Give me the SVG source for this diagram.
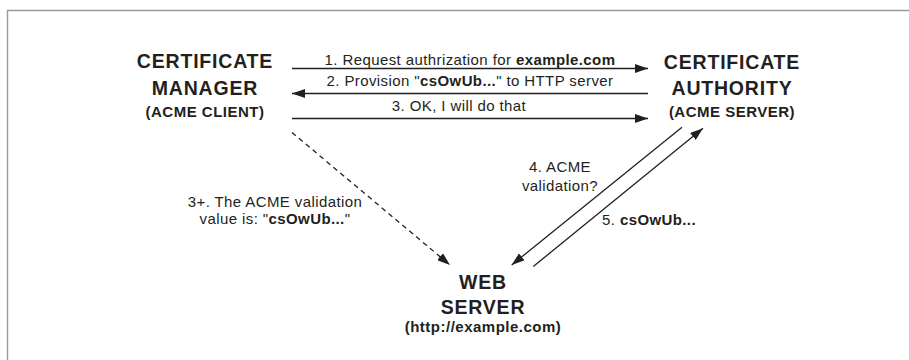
<svg xmlns="http://www.w3.org/2000/svg" width="909" height="360" viewBox="0 0 909 360">
<style>
.title{font-family:"Liberation Sans",Arial,sans-serif;font-weight:bold;font-size:19.5px;letter-spacing:0.8px;fill:#231f20;text-anchor:middle}
.sub{font-family:"Liberation Sans",Arial,sans-serif;font-weight:bold;font-size:15px;letter-spacing:0.5px;fill:#231f20;text-anchor:middle}
.lbl{font-family:"Liberation Sans",Arial,sans-serif;font-size:15px;letter-spacing:0.4px;fill:#231f20}
.b{font-weight:bold}
.ln{stroke:#231f20;stroke-width:1.3;fill:none}
</style>
<defs>
<marker id="ah" markerUnits="userSpaceOnUse" markerWidth="13" markerHeight="9" refX="13" refY="4.5" orient="auto">
<path d="M0,0 L13,4.5 L0,9 z" fill="#231f20"/>
</marker>
</defs>
<rect width="909" height="360" fill="#fff"/>
<path d="M7.5,360 V10.5 H909" stroke="#999" stroke-width="1.4" fill="none"/>
<g id="cert-manager">
<text class="title" x="205" y="68">CERTIFICATE</text>
<text class="title" x="205" y="95">MANAGER</text>
<text class="sub" x="205" y="117">(ACME CLIENT)</text>
</g>
<g id="cert-authority">
<text class="title" x="732" y="69">CERTIFICATE</text>
<text class="title" x="732" y="95">AUTHORITY</text>
<text class="sub" x="732" y="117">(ACME SERVER)</text>
</g>
<g id="web-server">
<text class="title" x="483" y="289">WEB</text>
<text class="title" x="483" y="314">SERVER</text>
<text class="sub" x="483" y="332">(http://example.com)</text>
</g>
<g id="connectors">
<line class="ln" x1="292" y1="68.5" x2="648" y2="68.5" marker-end="url(#ah)"/>
<line class="ln" x1="648" y1="93.5" x2="292" y2="93.5" marker-end="url(#ah)"/>
<line class="ln" x1="292" y1="118.5" x2="648" y2="118.5" marker-end="url(#ah)"/>
<line class="ln" x1="292" y1="132.5" x2="450" y2="265" stroke-dasharray="5,4" marker-end="url(#ah)"/>
<line class="ln" x1="682" y1="127.3" x2="511.7" y2="265" marker-end="url(#ah)"/>
<line class="ln" x1="533.3" y1="266.5" x2="703" y2="128.3" marker-end="url(#ah)"/>
</g>
<g id="labels">
<text class="lbl" x="470" y="65" text-anchor="middle">1. Request authrization for <tspan class="b">example.com</tspan></text>
<text class="lbl" x="470" y="86" text-anchor="middle">2. Provision "<tspan class="b">csOwUb...</tspan>" to HTTP server</text>
<text class="lbl" x="459" y="111" text-anchor="middle">3. OK, I will do that</text>
<text class="lbl" x="275" y="207" text-anchor="middle">3+. The ACME validation</text>
<text class="lbl" x="275" y="223.5" text-anchor="middle">value is: "<tspan class="b">csOwUb...</tspan>"</text>
<text class="lbl" x="560" y="172" text-anchor="middle">4. ACME</text>
<text class="lbl" x="560" y="191" text-anchor="middle">validation?</text>
<text class="lbl" x="602" y="225">5. <tspan class="b">csOwUb...</tspan></text>
</g>
</svg>
